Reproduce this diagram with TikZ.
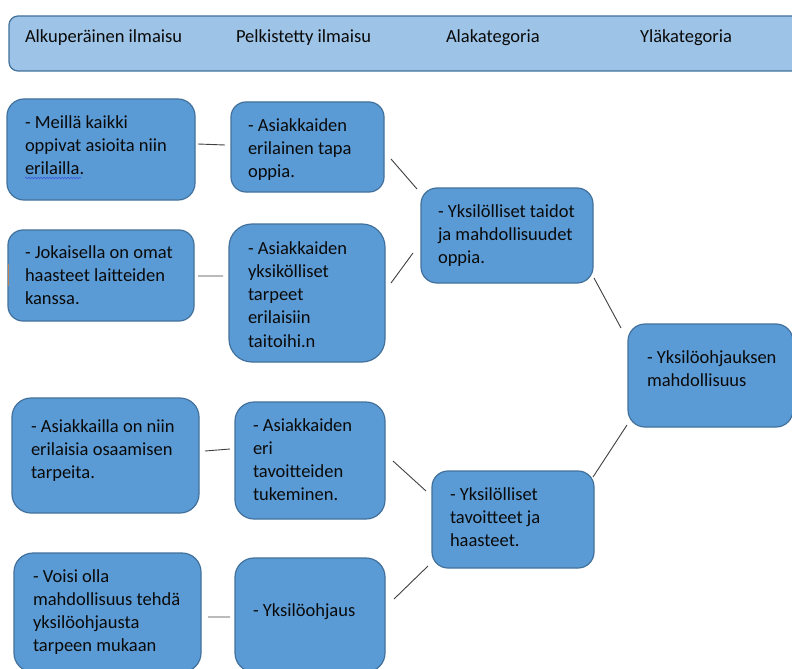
\documentclass[tikz,border=0pt]{standalone}
\usepackage{fontspec}
\setmainfont{Carlito}
\usetikzlibrary{calc,decorations.pathmorphing}
\definecolor{boxfill}{HTML}{5B9BD5}
\definecolor{boxdraw}{HTML}{41719C}
\definecolor{headfill}{HTML}{9DC3E6}
\definecolor{txtcol}{HTML}{0A0A0A}
\definecolor{linecol}{HTML}{404040}
\definecolor{spellblue}{HTML}{3B5BDB}
\definecolor{markorange}{HTML}{B9804F}
\newcommand{\fs}{\fontsize{18.5bp}{23.3bp}\selectfont}
\begin{document}
\begin{tikzpicture}[x=1bp,y=-1bp,
  boxbase/.style={draw=boxdraw, line width=1.2bp, fill=boxfill, inner sep=0pt, outer sep=0pt, anchor=north west},
  headbox/.style={boxbase, fill=headfill},
  txt/.style={anchor=north west, inner sep=0pt, outer sep=0pt, align=left, font=\fs, text=txtcol},
  conn/.style={draw=linecol, line width=0.9bp}]
\useasboundingbox (0,0) rectangle (792,669);
\fill[white] (0,0) rectangle (792,669);
\clip (0,0) rectangle (792,669);

% header
\node[headbox, minimum width=800bp, minimum height=55bp, rounded corners=9bp] (head) at (9,16) {};
\node[txt] (h1) at (25,26.69) {\strut Alkuperäinen ilmaisu};
\node[txt] (h2) at (236,26.69) {\strut Pelkistetty ilmaisu};
\node[txt] (h3) at (446,26.69) {\strut Alakategoria};
\node[txt] (h4) at (640,26.69) {\strut Yläkategoria};

% boxes
\node[boxbase, minimum width=188bp, minimum height=101bp, rounded corners=17bp] (a1) at (7,99) {};
\node[boxbase, minimum width=153bp, minimum height=90bp, rounded corners=15bp] (b1) at (231,102) {};
\node[boxbase, minimum width=186bp, minimum height=91bp, rounded corners=15bp] (a2) at (8,230) {};
\node[boxbase, minimum width=156bp, minimum height=138bp, rounded corners=23bp] (b2) at (229,224) {};
\node[boxbase, minimum width=172bp, minimum height=95bp, rounded corners=16bp] (c1) at (421,188) {};
\node[boxbase, minimum width=165bp, minimum height=103bp, rounded corners=17bp] (d) at (628,324) {};
\node[boxbase, minimum width=187bp, minimum height=115bp, rounded corners=19bp] (a3) at (12,398) {};
\node[boxbase, minimum width=150bp, minimum height=117bp, rounded corners=19bp] (b3) at (235,402) {};
\node[boxbase, minimum width=162bp, minimum height=97bp, rounded corners=16bp] (c2) at (432,471) {};
\node[boxbase, minimum width=187bp, minimum height=119bp, rounded corners=19bp] (a4) at (14,553) {};
\node[boxbase, minimum width=150bp, minimum height=114bp, rounded corners=19bp] (b4) at (235,558) {};

% texts
\node[txt] (a1t) at (25,111.69) {\strut - Meillä kaikki\\oppivat asioita niin\\erilailla.};
\node[txt] (b1t) at (248,114.69) {\strut - Asiakkaiden\\erilainen tapa\\oppia.};
\node[txt] (a2t) at (25,241.69) {\strut - Jokaisella on omat\\haasteet laitteiden\\kanssa.};
\node[txt] (b2t) at (248,237.69) {\strut - Asiakkaiden\\yksikölliset\\tarpeet\\erilaisiin\\taitoihi.n};
\node[txt] (c1t) at (438,200.69) {\strut - Yksilölliset taidot\\ja mahdollisuudet\\oppia.};
\node[txt] (dt) at (647,346.69) {\strut - Yksilöohjauksen\\mahdollisuus};
\node[txt] (a3t) at (31,415.69) {\strut - Asiakkailla on niin\\erilaisia osaamisen\\tarpeita.};
\node[txt] (b3t) at (253,414.69) {\strut - Asiakkaiden\\eri\\tavoitteiden\\tukeminen.};
\node[txt] (c2t) at (450,483.69) {\strut - Yksilölliset\\tavoitteet ja\\haasteet.};
\node[txt] (a4t) at (33,565.69) {\strut - Voisi olla\\mahdollisuus tehdä\\yksilöohjausta\\tarpeen mukaan};
\node[txt] (b4t) at (253,599.69) {\strut - Yksilöohjaus};

% spell-check underline and small mark
\draw[spellblue, line width=0.6bp, decorate, decoration={snake, amplitude=0.8bp, segment length=3bp}] (25,178) -- (81,178);
\draw[markorange, line width=1bp] (8,264) -- (8,286);

% connectors
\draw[conn] ($(a1.east)+(3,-5.5)$) -- ($(b1.west)+(-6,-2)$);
\draw[conn] ($(a2.east)+(4,0.5)$) -- ($(b2.west)+(-6,-17)$);
\draw[conn] ($(b1.east)+(7,12)$) -- ($(c1.north west)+(-4,1)$);
\draw[conn] ($(b2.east)+(6,-10)$) -- ($(c1.west)+(-8,17.5)$);
\draw[conn] ($(c1.south east)+(1,-5)$) -- ($(d.north west)+(-7,4)$);
\draw[conn] ($(d.south west)+(-1,-2)$) -- ($(c2.north east)+(-1,6)$);
\draw[conn] ($(b3.east)+(8,0.5)$) -- ($(c2.west)+(-6,-28.5)$);
\draw[conn] ($(b4.east)+(9,-16)$) -- ($(c2.south west)+(-4,-2)$);
\draw[conn] ($(a3.east)+(6,-4.5)$) -- ($(b3.west)+(-5,-11.5)$);
\draw[conn] ($(a4.east)+(7,4.5)$) -- ($(b4.west)+(-5,2)$);
\end{tikzpicture}
\end{document}
